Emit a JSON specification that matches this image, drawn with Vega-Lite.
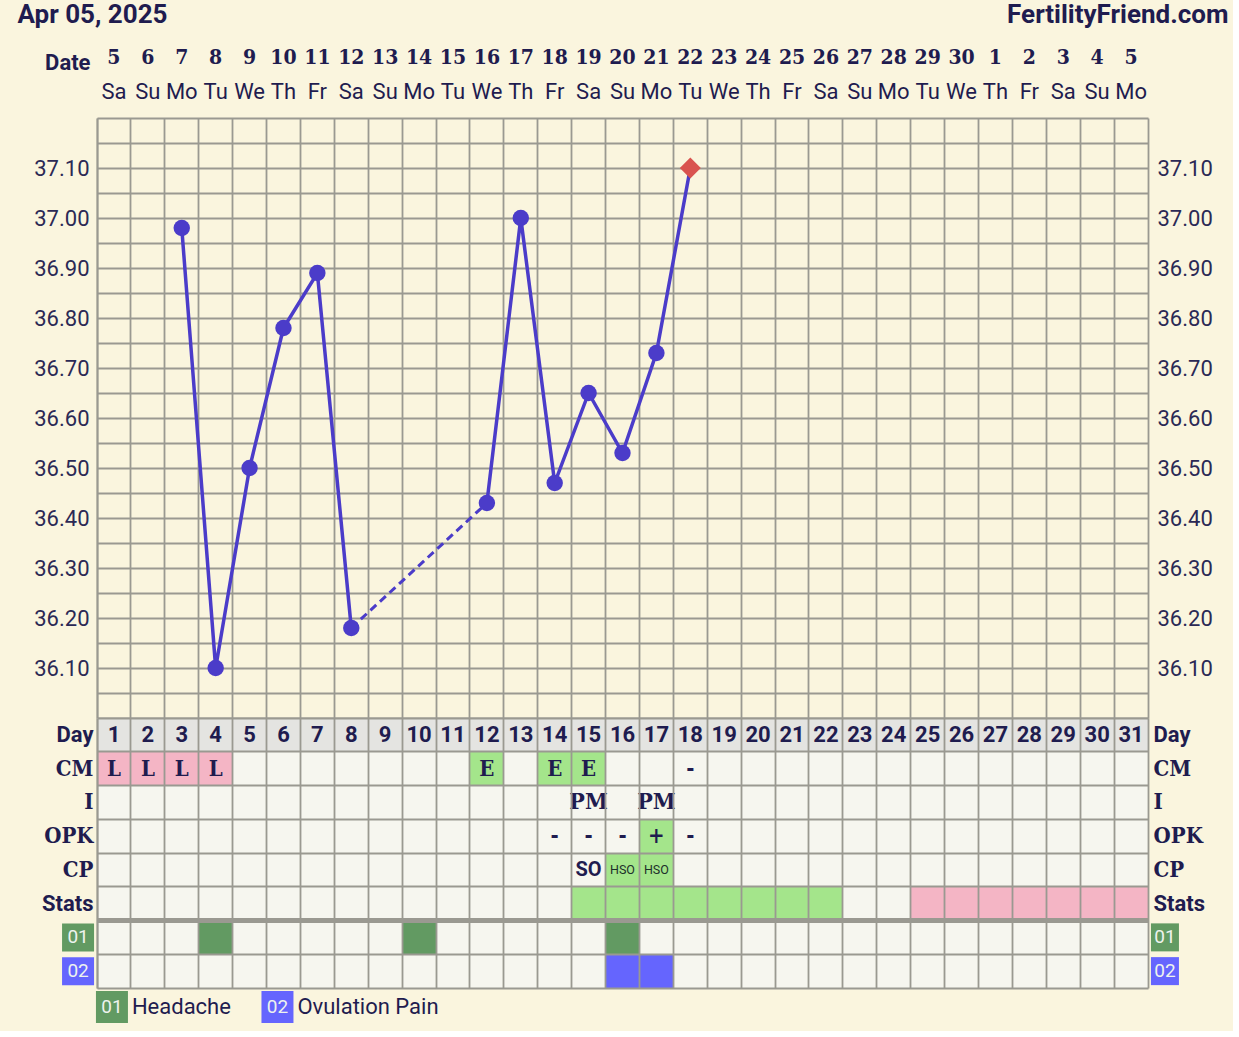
{
  "$schema": "https://vega.github.io/schema/vega-lite/v6.json",
  "background": "#faf5de",
  "padding": {"left": 17, "top": 1, "right": 5, "bottom": 5},
  "spacing": 0,
  "datasets": {
    "days": [
      {"day": 1, "dnum": "5", "wd": "Sa"}, {"day": 2, "dnum": "6", "wd": "Su"}, {"day": 3, "dnum": "7", "wd": "Mo"},
      {"day": 4, "dnum": "8", "wd": "Tu"}, {"day": 5, "dnum": "9", "wd": "We"}, {"day": 6, "dnum": "10", "wd": "Th"},
      {"day": 7, "dnum": "11", "wd": "Fr"}, {"day": 8, "dnum": "12", "wd": "Sa"}, {"day": 9, "dnum": "13", "wd": "Su"},
      {"day": 10, "dnum": "14", "wd": "Mo"}, {"day": 11, "dnum": "15", "wd": "Tu"}, {"day": 12, "dnum": "16", "wd": "We"},
      {"day": 13, "dnum": "17", "wd": "Th"}, {"day": 14, "dnum": "18", "wd": "Fr"}, {"day": 15, "dnum": "19", "wd": "Sa"},
      {"day": 16, "dnum": "20", "wd": "Su"}, {"day": 17, "dnum": "21", "wd": "Mo"}, {"day": 18, "dnum": "22", "wd": "Tu"},
      {"day": 19, "dnum": "23", "wd": "We"}, {"day": 20, "dnum": "24", "wd": "Th"}, {"day": 21, "dnum": "25", "wd": "Fr"},
      {"day": 22, "dnum": "26", "wd": "Sa"}, {"day": 23, "dnum": "27", "wd": "Su"}, {"day": 24, "dnum": "28", "wd": "Mo"},
      {"day": 25, "dnum": "29", "wd": "Tu"}, {"day": 26, "dnum": "30", "wd": "We"}, {"day": 27, "dnum": "1", "wd": "Th"},
      {"day": 28, "dnum": "2", "wd": "Fr"}, {"day": 29, "dnum": "3", "wd": "Sa"}, {"day": 30, "dnum": "4", "wd": "Su"},
      {"day": 31, "dnum": "5", "wd": "Mo"}
    ],
    "bbt": [
      {"day": 3, "temp": 36.98, "seg": "a"}, {"day": 4, "temp": 36.10, "seg": "a"}, {"day": 5, "temp": 36.50, "seg": "a"},
      {"day": 6, "temp": 36.78, "seg": "a"}, {"day": 7, "temp": 36.89, "seg": "a"}, {"day": 8, "temp": 36.18, "seg": "a"},
      {"day": 12, "temp": 36.43, "seg": "b"}, {"day": 13, "temp": 37.00, "seg": "b"}, {"day": 14, "temp": 36.47, "seg": "b"},
      {"day": 15, "temp": 36.65, "seg": "b"}, {"day": 16, "temp": 36.53, "seg": "b"}, {"day": 17, "temp": 36.73, "seg": "b"},
      {"day": 18, "temp": 37.10, "seg": "b"}
    ],
    "cells": [
      {"day": 1, "row": "CM", "kind": "pink", "label": "L"},
      {"day": 2, "row": "CM", "kind": "pink", "label": "L"},
      {"day": 3, "row": "CM", "kind": "pink", "label": "L"},
      {"day": 4, "row": "CM", "kind": "pink", "label": "L"},
      {"day": 12, "row": "CM", "kind": "green", "label": "E"},
      {"day": 14, "row": "CM", "kind": "green", "label": "E"},
      {"day": 15, "row": "CM", "kind": "green", "label": "E"},
      {"day": 18, "row": "CM", "kind": null, "label": "-"},
      {"day": 15, "row": "I", "kind": null, "label": "PM"},
      {"day": 17, "row": "I", "kind": null, "label": "PM"},
      {"day": 14, "row": "OPK", "kind": null, "label": "-"},
      {"day": 15, "row": "OPK", "kind": null, "label": "-"},
      {"day": 16, "row": "OPK", "kind": null, "label": "-"},
      {"day": 17, "row": "OPK", "kind": "green", "label": "+"},
      {"day": 18, "row": "OPK", "kind": null, "label": "-"},
      {"day": 15, "row": "CP", "kind": null, "label": "SO"},
      {"day": 16, "row": "CP", "kind": "green", "label": "HSO"},
      {"day": 17, "row": "CP", "kind": "green", "label": "HSO"},
      {"day": 15, "row": "Stats", "kind": "green", "label": ""},
      {"day": 16, "row": "Stats", "kind": "green", "label": ""},
      {"day": 17, "row": "Stats", "kind": "green", "label": ""},
      {"day": 18, "row": "Stats", "kind": "green", "label": ""},
      {"day": 19, "row": "Stats", "kind": "green", "label": ""},
      {"day": 20, "row": "Stats", "kind": "green", "label": ""},
      {"day": 21, "row": "Stats", "kind": "green", "label": ""},
      {"day": 22, "row": "Stats", "kind": "green", "label": ""},
      {"day": 25, "row": "Stats", "kind": "pink", "label": ""},
      {"day": 26, "row": "Stats", "kind": "pink", "label": ""},
      {"day": 27, "row": "Stats", "kind": "pink", "label": ""},
      {"day": 28, "row": "Stats", "kind": "pink", "label": ""},
      {"day": 29, "row": "Stats", "kind": "pink", "label": ""},
      {"day": 30, "row": "Stats", "kind": "pink", "label": ""},
      {"day": 31, "row": "Stats", "kind": "pink", "label": ""},
      {"day": 4, "row": "01", "kind": "headache", "label": ""},
      {"day": 10, "row": "01", "kind": "headache", "label": ""},
      {"day": 16, "row": "01", "kind": "headache", "label": ""},
      {"day": 16, "row": "02", "kind": "ovulation", "label": ""},
      {"day": 17, "row": "02", "kind": "ovulation", "label": ""}
    ],
    "symptoms": [
      {"code": "01", "name": "Headache", "kind": "headache"},
      {"code": "02", "name": "Ovulation Pain", "kind": "ovulation"}
    ]
  },
  "config": {
    "view": {"stroke": null},
    "font": "Roboto",
    "axis": {
      "gridColor": "#9a9991", "gridWidth": 1.8, "gridOpacity": 1,
      "domainColor": "#9a9991", "domainWidth": 1.8,
      "labelColor": "#1f1c4f", "titleColor": "#1f1c4f",
      "labelOverlap": false, "labelFlush": false, "labelBound": false
    }
  },
  "vconcat": [
    {
      "width": 1051,
      "height": 77,
      "data": {"name": "days"},
      "layer": [
        {
          "mark": {"type": "text", "font": "DejaVu Serif Condensed, DejaVu Serif", "fontWeight": "bold", "fontSize": 21, "color": "#1f1c4f", "baseline": "middle"},
          "encoding": {
            "x": {"field": "day", "type": "ordinal", "scale": {"type": "band", "domain": [1,2,3,4,5,6,7,8,9,10,11,12,13,14,15,16,17,18,19,20,21,22,23,24,25,26,27,28,29,30,31], "paddingInner": 0, "paddingOuter": 0}, "axis": null},
            "y": {"datum": "n", "type": "nominal",
              "scale": {"type": "band", "domain": ["n", "w"], "paddingInner": 0, "paddingOuter": 0.1324, "align": 0},
              "axis": {"orient": "left", "domain": false, "ticks": false, "labelExpr": "datum.value == 'n' ? 'Date' : ''",
                "labelFont": "Roboto", "labelFontWeight": "bold", "labelFontSize": 22, "labelPadding": 7, "labelOffset": 5,
                "title": "Apr 05, 2025", "titleAngle": 0, "titleX": -80, "titleY": -19, "titleAlign": "left", "titleBaseline": "alphabetic",
                "titleFont": "Roboto", "titleFontSize": 26, "titleFontWeight": "bold"}},
            "text": {"field": "dnum"}
          }
        },
        {
          "mark": {"type": "text", "font": "Roboto", "fontSize": 22, "color": "#1f1c4f", "baseline": "middle"},
          "encoding": {
            "x": {"field": "day", "type": "ordinal", "scale": {"type": "band", "domain": [1,2,3,4,5,6,7,8,9,10,11,12,13,14,15,16,17,18,19,20,21,22,23,24,25,26,27,28,29,30,31], "paddingInner": 0, "paddingOuter": 0}, "axis": null},
            "y": {"datum": "w", "type": "nominal",
              "scale": {"type": "band", "domain": ["n", "w"], "paddingInner": 0, "paddingOuter": 0.1324, "align": 0},
              "axis": {"orient": "right", "domain": false, "ticks": false, "labels": false,
                "title": "FertilityFriend.com", "titleAngle": 0, "titleX": 80, "titleY": -19, "titleAlign": "right", "titleBaseline": "alphabetic",
                "titleFont": "Roboto", "titleFontSize": 26, "titleFontWeight": "bold"}},
            "text": {"field": "wd"}
          }
        }
      ],
      "resolve": {"axis": {"y": "independent"}}
    },
    {
      "width": 1051,
      "height": 600,
      "data": {"name": "bbt"},
      "layer": [
        {
          "mark": {"type": "line", "color": "#4b3cc9", "strokeWidth": 3.5},
          "encoding": {
            "x": {"field": "day", "type": "ordinal", "scale": {"type": "band", "domain": [1,2,3,4,5,6,7,8,9,10,11,12,13,14,15,16,17,18,19,20,21,22,23,24,25,26,27,28,29,30,31], "paddingInner": 0, "paddingOuter": 0},
              "axis": {"bandPosition": 0, "grid": true, "labels": false, "ticks": false, "domain": false, "title": null}},
            "y": {"field": "temp", "type": "quantitative", "scale": {"domain": [36.0, 37.2], "nice": false, "zero": false},
              "axis": {"orient": "left", "values": [36.0,36.05,36.1,36.15,36.2,36.25,36.3,36.35,36.4,36.45,36.5,36.55,36.6,36.65,36.7,36.75,36.8,36.85,36.9,36.95,37.0,37.05,37.1,37.15,37.2],
                "grid": true, "ticks": false, "domain": true, "title": null,
                "labelExpr": "(round(datum.value*100) % 10 == 0 && datum.value > 36.05 && datum.value < 37.15) ? format(datum.value, '.2f') : ''",
                "labelFont": "Roboto",
                "labelFontSize": {"condition": {"test": "datum.value < 36.05 || datum.value > 37.15", "value": 0}, "value": 22},
                "labelColor": "#2b2955", "labelPadding": 8}},
            "detail": {"field": "seg"}
          }
        },
        {
          "transform": [{"filter": "datum.day == 8 || datum.day == 12"}],
          "mark": {"type": "line", "color": "#4b3cc9", "strokeWidth": 3, "strokeDash": [8, 5]},
          "encoding": {
            "x": {"field": "day", "type": "ordinal", "scale": {"type": "band", "domain": [1,2,3,4,5,6,7,8,9,10,11,12,13,14,15,16,17,18,19,20,21,22,23,24,25,26,27,28,29,30,31], "paddingInner": 0, "paddingOuter": 0}},
            "y": {"field": "temp", "type": "quantitative", "scale": {"domain": [36.0, 37.2], "nice": false, "zero": false}, "axis": null}
          }
        },
        {
          "transform": [{"filter": "datum.day < 18"}],
          "mark": {"type": "point", "filled": true, "size": 270, "opacity": 1, "color": "#4b3cc9"},
          "encoding": {
            "x": {"field": "day", "type": "ordinal", "scale": {"type": "band", "domain": [1,2,3,4,5,6,7,8,9,10,11,12,13,14,15,16,17,18,19,20,21,22,23,24,25,26,27,28,29,30,31], "paddingInner": 0, "paddingOuter": 0}},
            "y": {"field": "temp", "type": "quantitative", "scale": {"domain": [36.0, 37.2], "nice": false, "zero": false},
              "axis": {"orient": "right", "values": [36.1,36.2,36.3,36.4,36.5,36.6,36.7,36.8,36.9,37.0,37.1], "format": ".2f",
                "grid": false, "ticks": false, "domain": true, "title": null,
                "labelFont": "Roboto", "labelFontSize": 22, "labelColor": "#2b2955", "labelPadding": 9}}
          }
        },
        {
          "transform": [{"filter": "datum.day == 18"}],
          "mark": {"type": "point", "shape": "diamond", "filled": true, "size": 440, "opacity": 1, "color": "#d9534f"},
          "encoding": {
            "x": {"field": "day", "type": "ordinal", "scale": {"type": "band", "domain": [1,2,3,4,5,6,7,8,9,10,11,12,13,14,15,16,17,18,19,20,21,22,23,24,25,26,27,28,29,30,31], "paddingInner": 0, "paddingOuter": 0}},
            "y": {"field": "temp", "type": "quantitative", "scale": {"domain": [36.0, 37.2], "nice": false, "zero": false}, "axis": null}
          }
        }
      ],
      "resolve": {"axis": {"y": "independent"}}
    },
    {
      "width": 1051,
      "height": 270,
      "view": {"fill": "#f6f6ef"},
      "layer": [
        {
          "layer": [
            {
              "data": {"name": "days"},
              "mark": {"type": "rect", "color": "#e4e4e1"},
              "encoding": {
                "x": {"field": "day", "type": "ordinal", "scale": {"type": "band", "domain": [1,2,3,4,5,6,7,8,9,10,11,12,13,14,15,16,17,18,19,20,21,22,23,24,25,26,27,28,29,30,31], "paddingInner": 0, "paddingOuter": 0},
                  "axis": {"bandPosition": 0, "grid": true, "labels": false, "ticks": false, "domain": true, "title": null, "zindex": 1}},
                "y": {"datum": "Day", "type": "nominal",
                  "scale": {"type": "band", "domain": ["Day", "CM", "I", "OPK", "CP", "Stats", "01", "02"], "paddingInner": 0, "paddingOuter": 0},
                  "axis": {"orient": "left", "bandPosition": 0, "grid": true, "ticks": false, "domain": true, "title": null, "zindex": 1,
                    "labelExpr": "datum.value == '01' || datum.value == '02' ? '' : datum.value",
                    "labelFont": {"condition": {"test": "datum.value == 'Day' || datum.value == 'Stats'", "value": "Roboto"}, "value": "DejaVu Serif Condensed, DejaVu Serif"},
                    "labelFontSize": 22,
                    "labelFontWeight": "bold", "labelPadding": 4}}
              }
            },
            {
              "data": {"name": "cells"},
              "transform": [{"filter": "isValid(datum.kind)"}],
              "mark": {"type": "rect"},
              "encoding": {
                "x": {"field": "day", "type": "ordinal", "scale": {"type": "band", "domain": [1,2,3,4,5,6,7,8,9,10,11,12,13,14,15,16,17,18,19,20,21,22,23,24,25,26,27,28,29,30,31], "paddingInner": 0, "paddingOuter": 0}},
                "y": {"field": "row", "type": "nominal",
                  "scale": {"type": "band", "domain": ["Day", "CM", "I", "OPK", "CP", "Stats", "01", "02"], "paddingInner": 0, "paddingOuter": 0},
                  "axis": {"orient": "right", "grid": false, "ticks": false, "domain": true, "title": null, "zindex": 1,
                    "labelExpr": "datum.value == '01' || datum.value == '02' ? '' : datum.value",
                    "labelFont": {"condition": {"test": "datum.value == 'Day' || datum.value == 'Stats'", "value": "Roboto"}, "value": "DejaVu Serif Condensed, DejaVu Serif"},
                    "labelFontSize": 22,
                    "labelFontWeight": "bold", "labelPadding": 5}},
                "color": {"field": "kind", "type": "nominal", "legend": null,
                  "scale": {"domain": ["pink", "green", "headache", "ovulation"], "range": ["#f4b5c5", "#a4e58b", "#629a62", "#6565fe"]}}
              }
            },
            {
              "data": {"name": "days"},
              "mark": {"type": "text", "font": "Roboto", "fontWeight": "bold", "fontSize": 22, "color": "#1f1c4f", "baseline": "middle"},
              "encoding": {
                "x": {"field": "day", "type": "ordinal", "scale": {"type": "band", "domain": [1,2,3,4,5,6,7,8,9,10,11,12,13,14,15,16,17,18,19,20,21,22,23,24,25,26,27,28,29,30,31], "paddingInner": 0, "paddingOuter": 0}},
                "y": {"datum": "Day", "type": "nominal", "scale": {"type": "band", "domain": ["Day", "CM", "I", "OPK", "CP", "Stats", "01", "02"], "paddingInner": 0, "paddingOuter": 0}, "axis": null},
                "text": {"field": "day"}
              }
            },
            {
              "data": {"name": "cells"},
              "transform": [{"filter": "indexof(['L', 'E', '-', '+'], datum.label) >= 0"}],
              "mark": {"type": "text", "font": "DejaVu Serif Condensed, DejaVu Serif", "fontWeight": "bold", "fontSize": 22, "color": "#1f1c4f", "baseline": "middle"},
              "encoding": {
                "x": {"field": "day", "type": "ordinal", "scale": {"type": "band", "domain": [1,2,3,4,5,6,7,8,9,10,11,12,13,14,15,16,17,18,19,20,21,22,23,24,25,26,27,28,29,30,31], "paddingInner": 0, "paddingOuter": 0}},
                "y": {"field": "row", "type": "nominal", "scale": {"type": "band", "domain": ["Day", "CM", "I", "OPK", "CP", "Stats", "01", "02"], "paddingInner": 0, "paddingOuter": 0}, "axis": null},
                "text": {"field": "label"}
              }
            },
            {
              "data": {"name": "cells"},
              "transform": [{"filter": "datum.label == 'PM'"}],
              "mark": {"type": "text", "font": "DejaVu Serif Condensed, DejaVu Serif", "fontWeight": "bold", "fontSize": 23, "color": "#1f1c4f", "baseline": "middle"},
              "encoding": {
                "x": {"field": "day", "type": "ordinal", "scale": {"type": "band", "domain": [1,2,3,4,5,6,7,8,9,10,11,12,13,14,15,16,17,18,19,20,21,22,23,24,25,26,27,28,29,30,31], "paddingInner": 0, "paddingOuter": 0}},
                "y": {"field": "row", "type": "nominal", "scale": {"type": "band", "domain": ["Day", "CM", "I", "OPK", "CP", "Stats", "01", "02"], "paddingInner": 0, "paddingOuter": 0}, "axis": null},
                "text": {"field": "label"}
              }
            },
            {
              "data": {"name": "cells"},
              "transform": [{"filter": "datum.label == 'SO'"}],
              "mark": {"type": "text", "font": "Roboto", "fontWeight": "bold", "fontSize": 20, "color": "#1f1c4f", "baseline": "middle"},
              "encoding": {
                "x": {"field": "day", "type": "ordinal", "scale": {"type": "band", "domain": [1,2,3,4,5,6,7,8,9,10,11,12,13,14,15,16,17,18,19,20,21,22,23,24,25,26,27,28,29,30,31], "paddingInner": 0, "paddingOuter": 0}},
                "y": {"field": "row", "type": "nominal", "scale": {"type": "band", "domain": ["Day", "CM", "I", "OPK", "CP", "Stats", "01", "02"], "paddingInner": 0, "paddingOuter": 0}, "axis": null},
                "text": {"field": "label"}
              }
            },
            {
              "data": {"name": "cells"},
              "transform": [{"filter": "datum.label == 'HSO'"}],
              "mark": {"type": "text", "font": "Roboto", "fontSize": 12.5, "color": "#1d2f2a", "baseline": "middle"},
              "encoding": {
                "x": {"field": "day", "type": "ordinal", "scale": {"type": "band", "domain": [1,2,3,4,5,6,7,8,9,10,11,12,13,14,15,16,17,18,19,20,21,22,23,24,25,26,27,28,29,30,31], "paddingInner": 0, "paddingOuter": 0}},
                "y": {"field": "row", "type": "nominal", "scale": {"type": "band", "domain": ["Day", "CM", "I", "OPK", "CP", "Stats", "01", "02"], "paddingInner": 0, "paddingOuter": 0}, "axis": null},
                "text": {"field": "label"}
              }
            },
            {
              "data": {"values": [{}]},
              "mark": {"type": "rule", "color": "#9a9991", "strokeWidth": 5},
              "encoding": {
                "y": {"datum": "01", "type": "nominal", "bandPosition": 0, "scale": {"type": "band", "domain": ["Day", "CM", "I", "OPK", "CP", "Stats", "01", "02"], "paddingInner": 0, "paddingOuter": 0}, "axis": null}
              }
            }
          ],
          "resolve": {"axis": {"y": "independent"}}
        },
        {
          "data": {"name": "symptoms"},
          "layer": [
            {
              "mark": {"type": "rect", "width": 32, "height": 28, "xOffset": -2},
              "encoding": {
                "x": {"datum": 0, "type": "ordinal", "scale": {"type": "band", "domain": [0,1,2,3,4,5,6,7,8,9,10,11,12,13,14,15,16,17,18,19,20,21,22,23,24,25,26,27,28,29,30,31,32], "range": [-33.9, 1084.9], "paddingInner": 0, "paddingOuter": 0}, "axis": null},
                "y": {"field": "code", "type": "nominal", "scale": {"type": "band", "domain": ["Day", "CM", "I", "OPK", "CP", "Stats", "01", "02"], "paddingInner": 0, "paddingOuter": 0}, "axis": null},
                "color": {"field": "kind", "type": "nominal", "legend": null,
                  "scale": {"domain": ["pink", "green", "headache", "ovulation"], "range": ["#f4b5c5", "#a4e58b", "#629a62", "#6565fe"]}}
              }
            },
            {
              "mark": {"type": "text", "font": "Roboto", "fontSize": 19, "color": "#eef3ee", "baseline": "middle", "xOffset": -2},
              "encoding": {
                "x": {"datum": 0, "type": "ordinal", "scale": {"type": "band", "domain": [0,1,2,3,4,5,6,7,8,9,10,11,12,13,14,15,16,17,18,19,20,21,22,23,24,25,26,27,28,29,30,31,32], "range": [-33.9, 1084.9], "paddingInner": 0, "paddingOuter": 0}, "axis": null},
                "y": {"field": "code", "type": "nominal", "axis": null},
                "text": {"field": "code"}
              }
            },
            {
              "mark": {"type": "rect", "width": 28, "height": 28},
              "encoding": {
                "x": {"datum": 32, "type": "ordinal", "axis": null},
                "y": {"field": "code", "type": "nominal", "axis": null},
                "color": {"field": "kind", "type": "nominal", "legend": null}
              }
            },
            {
              "mark": {"type": "text", "font": "Roboto", "fontSize": 19, "color": "#eef3ee", "baseline": "middle"},
              "encoding": {
                "x": {"datum": 32, "type": "ordinal", "axis": null},
                "y": {"field": "code", "type": "nominal", "axis": null},
                "text": {"field": "code"}
              }
            }
          ]
        }
      ],
      "resolve": {"scale": {"x": "independent"}, "axis": {"x": "independent"}}
    },
    {
      "width": 1051,
      "height": 38,
      "data": {"name": "symptoms"},
      "layer": [
        {
          "transform": [{"filter": "datum.code == '01'"}],
          "mark": {"type": "rect", "width": 32, "height": 32, "xOffset": -2},
          "encoding": {
            "x": {"datum": 1, "type": "ordinal", "scale": {"type": "band", "domain": [1,2,3,4,5,6,7,8,9,10,11,12,13,14,15,16,17,18,19,20,21,22,23,24,25,26,27,28,29,30,31], "paddingInner": 0, "paddingOuter": 0}, "axis": null},
            "y": {"datum": "k", "type": "nominal", "scale": {"type": "band", "domain": ["k"], "paddingInner": 0, "paddingOuter": 0}, "axis": null},
            "color": {"field": "kind", "type": "nominal", "legend": null,
              "scale": {"domain": ["pink", "green", "headache", "ovulation"], "range": ["#f4b5c5", "#a4e58b", "#629a62", "#6565fe"]}}
          }
        },
        {
          "transform": [{"filter": "datum.code == '01'"}],
          "mark": {"type": "text", "font": "Roboto", "fontSize": 19, "color": "#eef3ee", "baseline": "middle", "xOffset": -2},
          "encoding": {
            "x": {"datum": 1, "type": "ordinal"},
            "y": {"datum": "k", "type": "nominal"},
            "text": {"field": "code"}
          }
        },
        {
          "transform": [{"filter": "datum.code == '01'"}],
          "mark": {"type": "text", "font": "Roboto", "fontSize": 22, "color": "#1f1c4f", "baseline": "middle", "align": "left", "dx": 1},
          "encoding": {
            "x": {"datum": 2, "type": "ordinal", "bandPosition": 0},
            "y": {"datum": "k", "type": "nominal"},
            "text": {"field": "name"}
          }
        },
        {
          "transform": [{"filter": "datum.code == '02'"}],
          "mark": {"type": "rect", "width": 32, "height": 32, "xOffset": -6},
          "encoding": {
            "x": {"datum": 6, "type": "ordinal"},
            "y": {"datum": "k", "type": "nominal"},
            "color": {"field": "kind", "type": "nominal", "legend": null}
          }
        },
        {
          "transform": [{"filter": "datum.code == '02'"}],
          "mark": {"type": "text", "font": "Roboto", "fontSize": 19, "color": "#eef3ee", "baseline": "middle", "xOffset": -6},
          "encoding": {
            "x": {"datum": 6, "type": "ordinal"},
            "y": {"datum": "k", "type": "nominal"},
            "text": {"field": "code"}
          }
        },
        {
          "transform": [{"filter": "datum.code == '02'"}],
          "mark": {"type": "text", "font": "Roboto", "fontSize": 22, "color": "#1f1c4f", "baseline": "middle", "align": "left", "dx": -3},
          "encoding": {
            "x": {"datum": 7, "type": "ordinal", "bandPosition": 0},
            "y": {"datum": "k", "type": "nominal"},
            "text": {"field": "name"}
          }
        }
      ]
    }
  ]
}
